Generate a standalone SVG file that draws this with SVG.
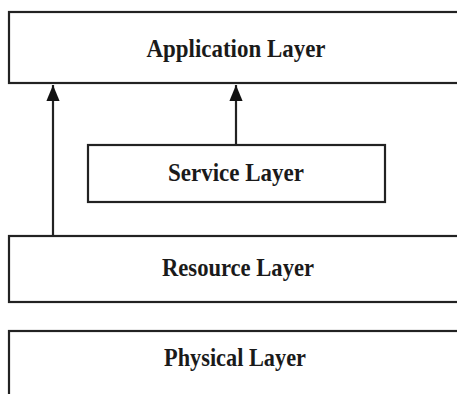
<svg xmlns="http://www.w3.org/2000/svg" width="457" height="394" viewBox="0 0 457 394">
<style>
.box{fill:#fff;stroke:#222;stroke-width:2.2}
.lbl{font-family:"Liberation Serif","Times New Roman",serif;font-weight:bold;font-size:26px;fill:#1a1a1a;text-anchor:middle}
.con{stroke:#222;stroke-width:2.2;fill:none}
</style>
<defs>
<marker id="ah" markerUnits="userSpaceOnUse" markerWidth="16" markerHeight="20" refX="17" refY="7" orient="auto" viewBox="0 0 17 14">
<path d="M0,0 L17,7 L0,14 Z" fill="#111"/>
</marker>
</defs>
<g id="application"><rect class="box" x="9" y="12" width="460" height="71"/><text class="lbl" x="236" y="57" textLength="179" lengthAdjust="spacingAndGlyphs">Application Layer</text></g>
<g id="service"><rect class="box" x="88" y="145" width="297" height="57"/><text class="lbl" x="236" y="181" textLength="136" lengthAdjust="spacingAndGlyphs">Service Layer</text></g>
<g id="resource"><rect class="box" x="9" y="236" width="460" height="66"/><text class="lbl" x="238" y="276" textLength="152" lengthAdjust="spacingAndGlyphs">Resource Layer</text></g>
<g id="physical"><rect class="box" x="9" y="331" width="460" height="80"/><text class="lbl" x="235" y="366" textLength="142" lengthAdjust="spacingAndGlyphs">Physical Layer</text></g>
<g id="connectors">
<line class="con" x1="53" y1="236" x2="53" y2="85" marker-end="url(#ah)"/>
<line class="con" x1="236" y1="145" x2="236" y2="85" marker-end="url(#ah)"/>
</g>
</svg>
